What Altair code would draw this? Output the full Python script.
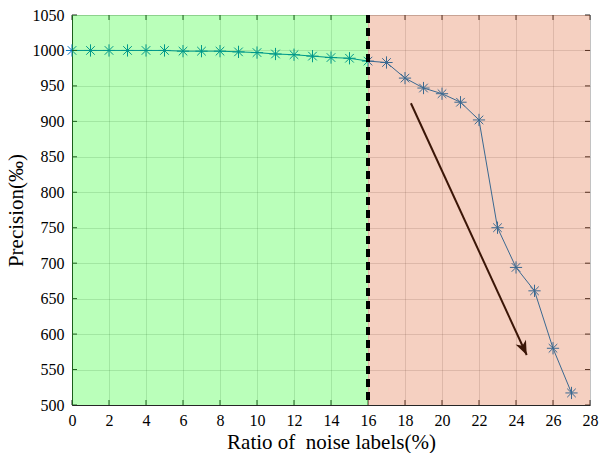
import altair as alt
import pandas as pd

# ---- data ----
noise_ratio = list(range(28))
precision = [1000, 1000, 1000, 1000, 1000, 1000, 999, 999, 999, 998,
             997, 995, 994, 992, 990, 989, 985, 983, 961, 947,
             939, 927, 902, 750, 694, 661, 580, 517]
region_start = [0, 16]
region_end = [16, 28]
region_name = ["clean", "noisy"]
threshold = 16
arrow_x = [18.32, 24.58]
arrow_y = [925.5, 570.5]
x_ticks = list(range(0, 29, 2))
y_ticks = list(range(500, 1051, 50))

W, H = 518, 390
FONT = "Liberation Serif"
AX = "#262626"

df = pd.DataFrame({"x": noise_ratio, "y": precision})
reg = pd.DataFrame({"s": region_start, "e": region_end, "r": region_name})
arr = pd.DataFrame({"x": [arrow_x[0]], "y": [arrow_y[0]], "x2": [arrow_x[1]], "y2": [arrow_y[1]]})
tip = pd.DataFrame({"x": [arrow_x[1]], "y": [arrow_y[1]]})
xt = pd.DataFrame({"v": x_ticks})
yt = pd.DataFrame({"v": y_ticks})

xs = alt.Scale(domain=[0, 28], nice=False, zero=False)
ys = alt.Scale(domain=[500, 1050], nice=False, zero=False)

common = dict(labelFont=FONT, labelFontSize=16, labelColor="black", labelOverlap=False,
              labelFlush=False, titleFont=FONT, titleFontSize=21, titleFontWeight="normal",
              titleColor="black", domainColor=AX, domainWidth=1, ticks=False, tickSize=0,
              gridColor=AX, gridOpacity=0.15, gridWidth=1, format="d")
xaxis = alt.Axis(values=x_ticks, title="Ratio of\u00a0 noise labels(%)",
                 labelPadding=7, titlePadding=3, **common)
yaxis = alt.Axis(values=y_ticks, title="Precision(\u2030)",
                 labelPadding=8, titlePadding=6, **common)

asterisk = "M0,-1L0,1M-1,0L1,0M-0.7,-0.7L0.7,0.7M-0.7,0.7L0.7,-0.7"
arrowhead = "M0,0L-0.5,-1.25L0,-0.9L0.5,-1.25Z"

NX = alt.X("x:Q", scale=xs, axis=xaxis)
NY = alt.Y("y:Q", scale=ys, axis=yaxis)

line = alt.Chart(df).mark_line(color="#0072BD", strokeWidth=1).encode(x=NX, y=NY)
pts = alt.Chart(df).mark_point(shape=asterisk, size=150, filled=False,
                               strokeWidth=1, color="#0072BD", opacity=1).encode(
    x=NX, y=NY)

arrow_line = alt.Chart(arr).mark_rule(color="black", strokeWidth=2).encode(
    x=NX, y=NY, x2="x2:Q", y2="y2:Q")
arrow_head = alt.Chart(tip).mark_point(shape=arrowhead, size=520, filled=True,
                                       angle=335.3, color="black", opacity=1,
                                       strokeWidth=0).encode(x=NX, y=NY)

VX = alt.X("v:Q", scale=xs, axis=xaxis)
VY = alt.Y("v:Q", scale=ys, axis=yaxis)
tb = alt.Chart(xt).mark_rule(color=AX, strokeWidth=1).encode(
    x=VX, y=alt.value(H), y2=alt.value(H - 5))
tt = alt.Chart(xt).mark_rule(color=AX, strokeWidth=1).encode(
    x=VX, y=alt.value(0), y2=alt.value(5))
tl = alt.Chart(yt).mark_rule(color=AX, strokeWidth=1).encode(
    y=VY, x=alt.value(0), x2=alt.value(5))
tr = alt.Chart(yt).mark_rule(color=AX, strokeWidth=1).encode(
    y=VY, x=alt.value(W), x2=alt.value(W - 5))

patches = alt.Chart(reg).mark_rect(opacity=0.27).encode(
    x=alt.X("s:Q", scale=xs, axis=xaxis), x2="e:Q", y=alt.value(0), y2=alt.value(H),
    color=alt.Color("r:N", scale=alt.Scale(domain=region_name,
                                           range=["#00ff00", "#d95319"]),
                    legend=None))

dash = alt.Chart(df).mark_rule(color="black", strokeWidth=3, strokeDash=[8, 5]).encode(
    x=alt.datum(threshold, scale=xs, axis=xaxis))

chart = alt.layer(line, pts, arrow_line, arrow_head, tb, tt, tl, tr, patches, dash).properties(
    width=W, height=H,
    autosize=alt.AutoSizeParams(type="none"),
    padding={"left": 72, "top": 15, "right": 9, "bottom": 48},
).configure_view(stroke=AX, strokeWidth=1).configure_axis(
    labelFont=FONT, titleFont=FONT
).configure(font=FONT)

chart.save("out.html", embed_options={"renderer": "svg", "actions": False})
